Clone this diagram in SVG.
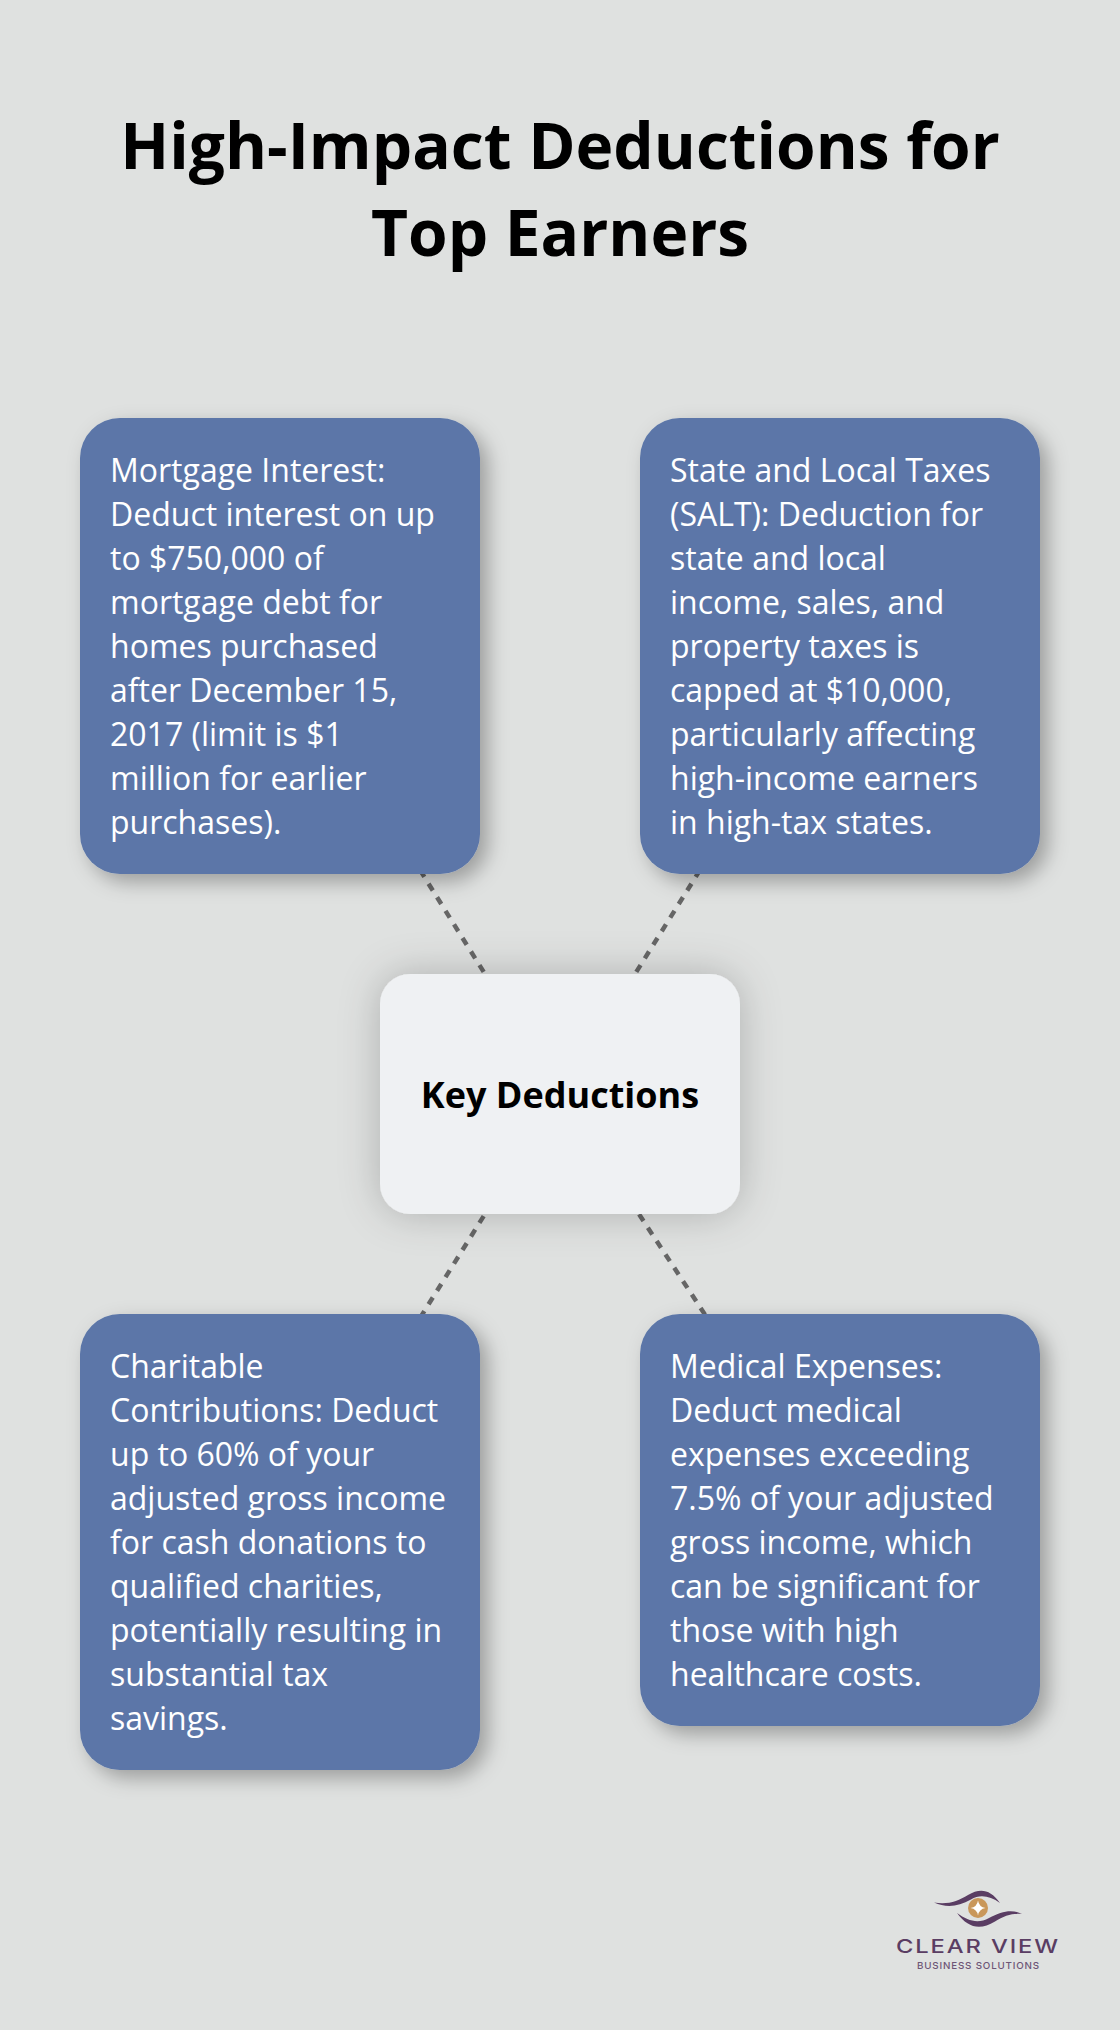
<svg xmlns="http://www.w3.org/2000/svg" width="1120" height="2030" viewBox="0 0 1120 2030">
<defs>
<filter id="sh" x="-30%" y="-30%" width="160%" height="160%"><feDropShadow dx="8" dy="8" stdDeviation="10" flood-color="#000" flood-opacity="0.3"/></filter>
<filter id="shc" x="-40%" y="-40%" width="180%" height="180%"><feDropShadow dx="0" dy="0" stdDeviation="20" flood-color="#000" flood-opacity="0.22"/></filter>
</defs>
<style>
text{font-family:"Open Sans","Noto Sans",sans-serif}
.title{font-size:64px;font-weight:700;fill:#000;text-anchor:middle}
.body{font-size:32px;fill:#fff}
.card{fill:#5b76a8;filter:url(#sh)}
.conn{stroke:#666;stroke-width:4.5;stroke-dasharray:8 8;fill:none}
.swoosh{fill:#5a3d63}
</style>
<rect width="1120" height="2030" fill="#dfe1e0"/>
<g id="title"><text class="title" x="560" y="169">High-Impact Deductions for</text><text class="title" x="560" y="256">Top Earners</text></g>
<g id="connectors">
<line class="conn" x1="560" y1="1094" x2="280" y2="646"/>
<line class="conn" x1="560" y1="1094" x2="840" y2="646"/>
<line class="conn" x1="560" y1="1094" x2="280" y2="1542"/>
<line class="conn" x1="560" y1="1094" x2="840" y2="1520"/>
</g>
<g id="node-mortgage"><rect class="card" x="80" y="418" width="400" height="456" rx="40"/>
<text class="body"><tspan x="110" y="482">Mortgage Interest:</tspan><tspan x="110" y="526">Deduct interest on up</tspan><tspan x="110" y="570">to $750,000 of</tspan><tspan x="110" y="614">mortgage debt for</tspan><tspan x="110" y="658">homes purchased</tspan><tspan x="110" y="702">after December 15,</tspan><tspan x="110" y="746">2017 (limit is $1</tspan><tspan x="110" y="790">million for earlier</tspan><tspan x="110" y="834">purchases).</tspan></text></g>
<g id="node-salt"><rect class="card" x="640" y="418" width="400" height="456" rx="40"/>
<text class="body"><tspan x="670" y="482">State and Local Taxes</tspan><tspan x="670" y="526">(SALT): Deduction for</tspan><tspan x="670" y="570">state and local</tspan><tspan x="670" y="614">income, sales, and</tspan><tspan x="670" y="658">property taxes is</tspan><tspan x="670" y="702">capped at $10,000,</tspan><tspan x="670" y="746">particularly affecting</tspan><tspan x="670" y="790">high-income earners</tspan><tspan x="670" y="834">in high-tax states.</tspan></text></g>
<g id="node-center"><rect x="380" y="974" width="360" height="240" rx="30" fill="#eff1f3" filter="url(#shc)"/>
<text x="560" y="1108" font-size="36" font-weight="700" fill="#000" text-anchor="middle">Key Deductions</text></g>
<g id="node-charity"><rect class="card" x="80" y="1314" width="400" height="456" rx="40"/>
<text class="body"><tspan x="110" y="1378">Charitable</tspan><tspan x="110" y="1422">Contributions: Deduct</tspan><tspan x="110" y="1466">up to 60% of your</tspan><tspan x="110" y="1510">adjusted gross income</tspan><tspan x="110" y="1554">for cash donations to</tspan><tspan x="110" y="1598">qualified charities,</tspan><tspan x="110" y="1642">potentially resulting in</tspan><tspan x="110" y="1686">substantial tax</tspan><tspan x="110" y="1730">savings.</tspan></text></g>
<g id="node-medical"><rect class="card" x="640" y="1314" width="400" height="412" rx="40"/>
<text class="body"><tspan x="670" y="1378">Medical Expenses:</tspan><tspan x="670" y="1422">Deduct medical</tspan><tspan x="670" y="1466">expenses exceeding</tspan><tspan x="670" y="1510">7.5% of your adjusted</tspan><tspan x="670" y="1554">gross income, which</tspan><tspan x="670" y="1598">can be significant for</tspan><tspan x="670" y="1642">those with high</tspan><tspan x="670" y="1686">healthcare costs.</tspan></text></g>
<g id="logo">
<path class="swoosh" d="M934 1902.5C948 1905 958 1901 968 1895C980 1888 990 1889 1000 1903C990 1896 980 1894 971 1899.5C958 1907 946 1908 934 1902.5Z"/>
<path class="swoosh" d="M957 1913C968 1921 978 1924 989 1918C1002 1911 1012 1909 1022 1914C1012 1913 1004 1916 995 1921.5C980 1930.5 968 1928 957 1913Z"/>
<circle cx="978" cy="1908" r="10" fill="#c9975a"/>
<path d="M978 1900.5Q979 1907 985.5 1908Q979 1909 978 1915.5Q977 1909 970.5 1908Q977 1907 978 1900.5Z" fill="#fff"/>
<text x="896" y="1953" font-size="19" font-weight="500" fill="#5a3d63" letter-spacing="1.5" textLength="164" lengthAdjust="spacingAndGlyphs" style="font-family:Inter,sans-serif">CLEAR VIEW</text>
<text x="917" y="1969" font-size="9.5" font-weight="500" fill="#6d5576" letter-spacing="0.8" textLength="123" lengthAdjust="spacingAndGlyphs" style="font-family:Inter,sans-serif">BUSINESS SOLUTIONS</text>
</g>
</svg>
